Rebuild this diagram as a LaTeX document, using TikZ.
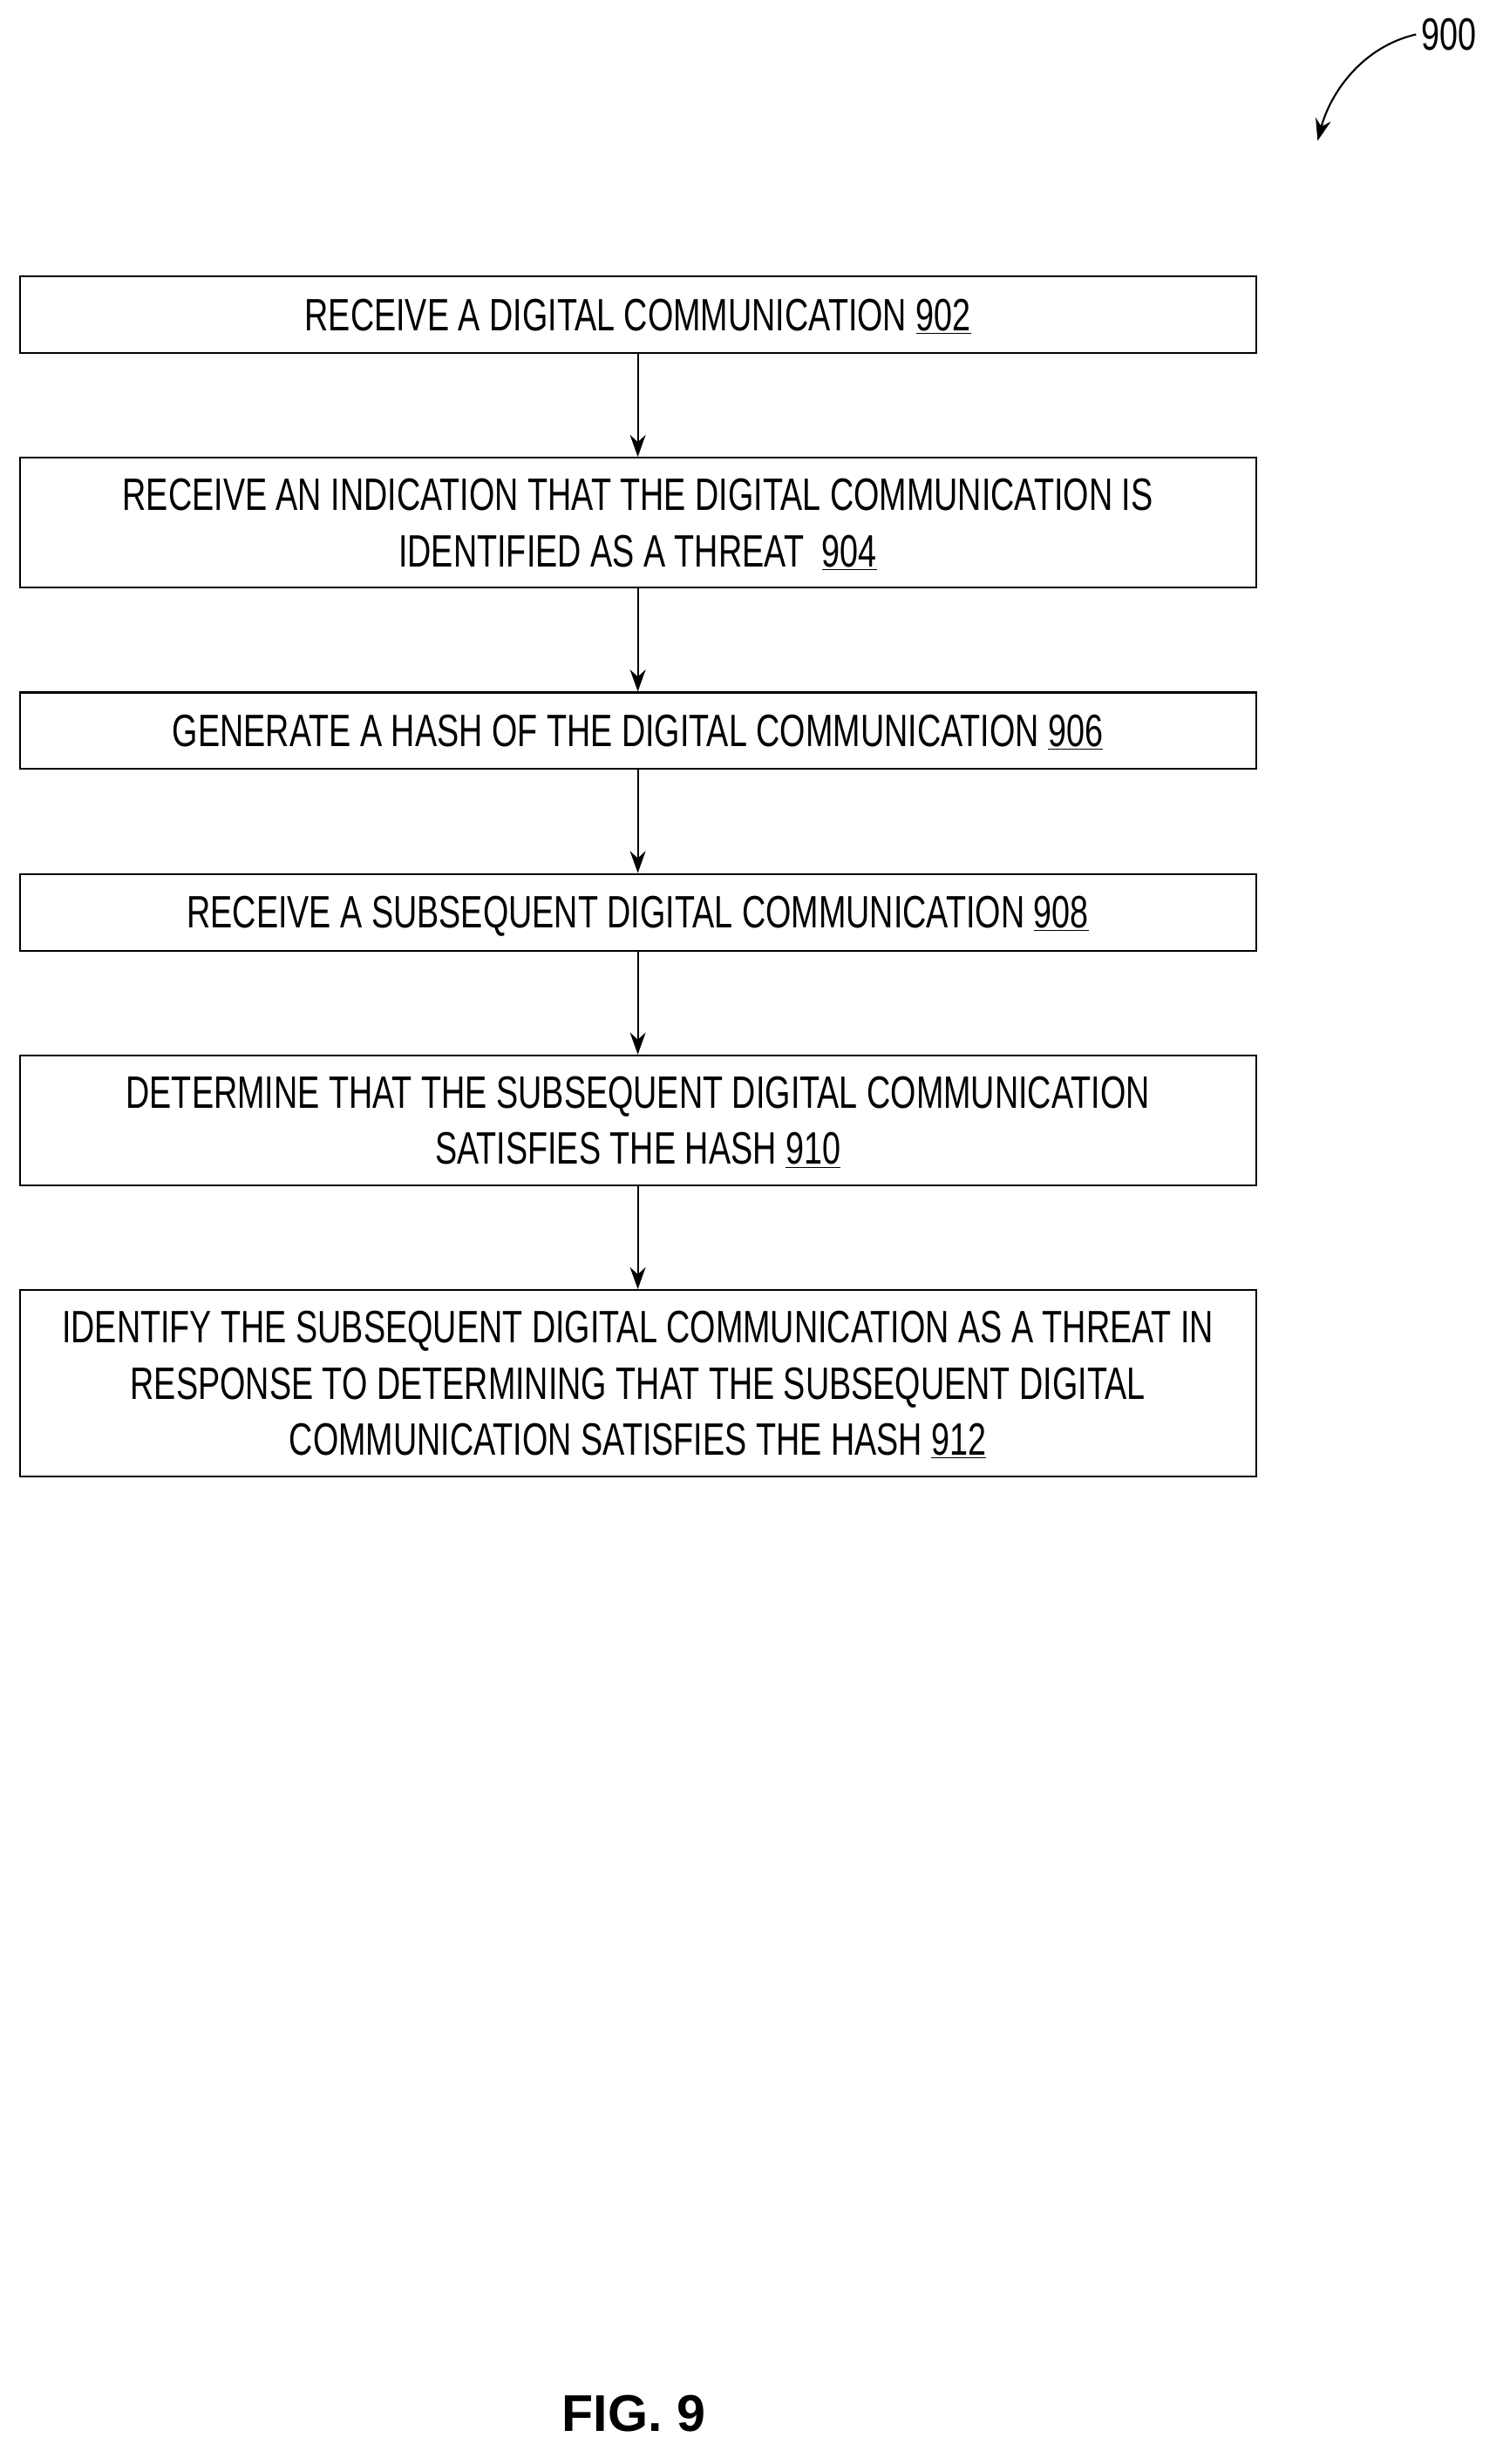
\documentclass[tikz,border=0pt]{standalone}
\usepackage{fontspec}
\newfontfamily\narrow[FakeStretch=0.725]{Liberation Sans}
\usetikzlibrary{arrows.meta}
\begin{document}
\begin{tikzpicture}[x=1pt,y=-1pt,
  stepbox/.style={draw,line width=1.2pt,minimum width=790pt,anchor=north west,inner sep=0pt,text depth=0pt,align=center,font=\narrow\fontsize{29}{36}\selectfont},
  arr/.style={-{Stealth[length=14pt,width=10pt]},line width=1.2pt}]
\useasboundingbox (0,0) rectangle (960,1575);
\node[stepbox,minimum height=49pt] (b1) at (12,176) {RECEIVE A DIGITAL COMMUNICATION \underline{902}};
\node[stepbox,minimum height=83pt] (b2) at (12,292) {RECEIVE AN INDICATION THAT THE DIGITAL COMMUNICATION IS\\IDENTIFIED AS A THREAT \ \underline{904}};
\node[stepbox,minimum height=49pt] (b3) at (12,442) {GENERATE A HASH OF THE DIGITAL COMMUNICATION \underline{906}};
\node[stepbox,minimum height=49pt] (b4) at (12,558) {RECEIVE A SUBSEQUENT DIGITAL COMMUNICATION \underline{908}};
\node[stepbox,minimum height=83pt] (b5) at (12,674) {DETERMINE THAT THE SUBSEQUENT DIGITAL COMMUNICATION\\SATISFIES THE HASH \underline{910}};
\node[stepbox,minimum height=119pt] (b6) at (12,824) {IDENTIFY THE SUBSEQUENT DIGITAL COMMUNICATION AS A THREAT IN\\RESPONSE TO DETERMINING THAT THE SUBSEQUENT DIGITAL\\COMMUNICATION SATISFIES THE HASH \underline{912}};
\draw[arr] (b1) -- (b2);
\draw[arr] (b2) -- (b3);
\draw[arr] (b3) -- (b4);
\draw[arr] (b4) -- (b5);
\draw[arr] (b5) -- (b6);
\node[font=\narrow\fontsize{29}{34}\selectfont] (lbl) at (926,22) {900};
\coordinate (tip) at (842,90);
\draw[arr] (lbl.west) .. controls (870,30) and (850,60) .. (tip);
\node[font=\fontspec{Liberation Sans}\bfseries\fontsize{33}{40}\selectfont] (fig) at (405,1543) {FIG. 9};
\end{tikzpicture}
\end{document}
